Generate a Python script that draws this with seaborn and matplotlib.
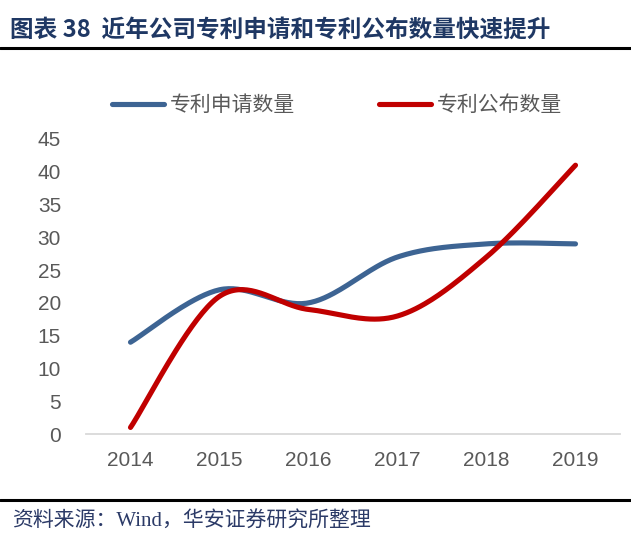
import matplotlib
matplotlib.use('Agg')
import matplotlib.pyplot as plt
import numpy as np
import pandas as pd
import seaborn as sns
from matplotlib.lines import Line2D

# data
years = ['2014', '2015', '2016', '2017', '2018', '2019']
applied = [14, 22, 20, 27, 29, 29]      # 专利申请数量
published = [1, 21, 19, 18, 27, 41]     # 专利公布数量
series_names = ['专利申请数量', '专利公布数量']
colors = ['#3D6493', '#C00000']


def smooth(vals, n=40):
    # Excel-like smoothed line: bezier segments with catmull-rom style handles
    p = np.array(vals, dtype=float)
    x = np.arange(len(p), dtype=float)
    pts = np.column_stack([x, p])
    xs, ys = [], []
    for i in range(len(pts) - 1):
        p0 = pts[max(i - 1, 0)]
        p1 = pts[i]
        p2 = pts[i + 1]
        p3 = pts[min(i + 2, len(pts) - 1)]
        c1 = p1 + (p2 - p0) / 6
        c2 = p2 - (p3 - p1) / 6
        t = np.linspace(0, 1, n)[:, None]
        seg = ((1 - t) ** 3) * p1 + 3 * ((1 - t) ** 2) * t * c1 + 3 * (1 - t) * t ** 2 * c2 + t ** 3 * p2
        xs.extend(seg[:, 0])
        ys.extend(seg[:, 1])
    return xs, ys


sns.set_theme(style='white')
plt.rcParams['font.family'] = ['Noto Sans CJK SC', 'DejaVu Sans']

fig = plt.figure(figsize=(6.31, 5.56), dpi=100)
ax = fig.add_axes([86 / 631, 1 - 434 / 556, (620 - 86) / 631, (434 - 139) / 556])

frames = []
for name, vals in zip(series_names, [applied, published]):
    sx, sy = smooth(vals)
    frames.append(pd.DataFrame({'x': sx, 'y': sy, 'series': name}))
df = pd.concat(frames, ignore_index=True)

sns.lineplot(data=df, x='x', y='y', hue='series', palette=colors, sort=False,
             estimator=None, linewidth=3.7, legend=False, ax=ax,
             solid_capstyle='round')

ax.set_xlim(-0.5, 5.5)
ax.set_ylim(0, 45)
ax.set_yticks(range(0, 50, 5))
ax.set_xticks(range(len(years)))
ax.set_xticklabels(years)
ax.set_xlabel('')
ax.set_ylabel('')
for s in ['left', 'right', 'top']:
    ax.spines[s].set_visible(False)
ax.spines['bottom'].set_color('#D9D9D9')
ax.spines['bottom'].set_linewidth(1.3)
ax.tick_params(axis='both', length=0, labelsize=15, labelcolor='#595959')
ax.tick_params(axis='y', pad=18)
ax.tick_params(axis='x', pad=12)
for lab in ax.get_xticklabels() + ax.get_yticklabels():
    lab.set_family(['Liberation Sans', 'DejaVu Sans'])

handles = [Line2D([], [], color=c, linewidth=3.7, solid_capstyle='round') for c in colors]
fig.legend(handles, series_names, loc='center', bbox_to_anchor=(337 / 631, 1 - 105 / 556),
           ncol=2, frameon=False, fontsize=15, labelcolor='#595959',
           handlelength=2.5, handletextpad=0.3, columnspacing=4.0)

# title and footer
fig.text(10 / 631, 1 - 30 / 556, '图表 38  近年公司专利申请和专利公布数量快速提升',
         fontsize=17, fontweight='bold', color='#1F3864', va='center', ha='left')
fig.add_artist(Line2D([0, 1], [1 - 48 / 556, 1 - 48 / 556], color='black', linewidth=2.2))
fig.add_artist(Line2D([0, 1], [1 - 500 / 556, 1 - 500 / 556], color='black', linewidth=2.2))
fig.text(12 / 631, 1 - 522 / 556, '资料来源：Wind，华安证券研究所整理',
         fontsize=15, color='#2B3A67', va='center', ha='left',
         family=['Liberation Serif', 'Noto Sans CJK SC'])

fig.savefig('out.png', dpi=100)
